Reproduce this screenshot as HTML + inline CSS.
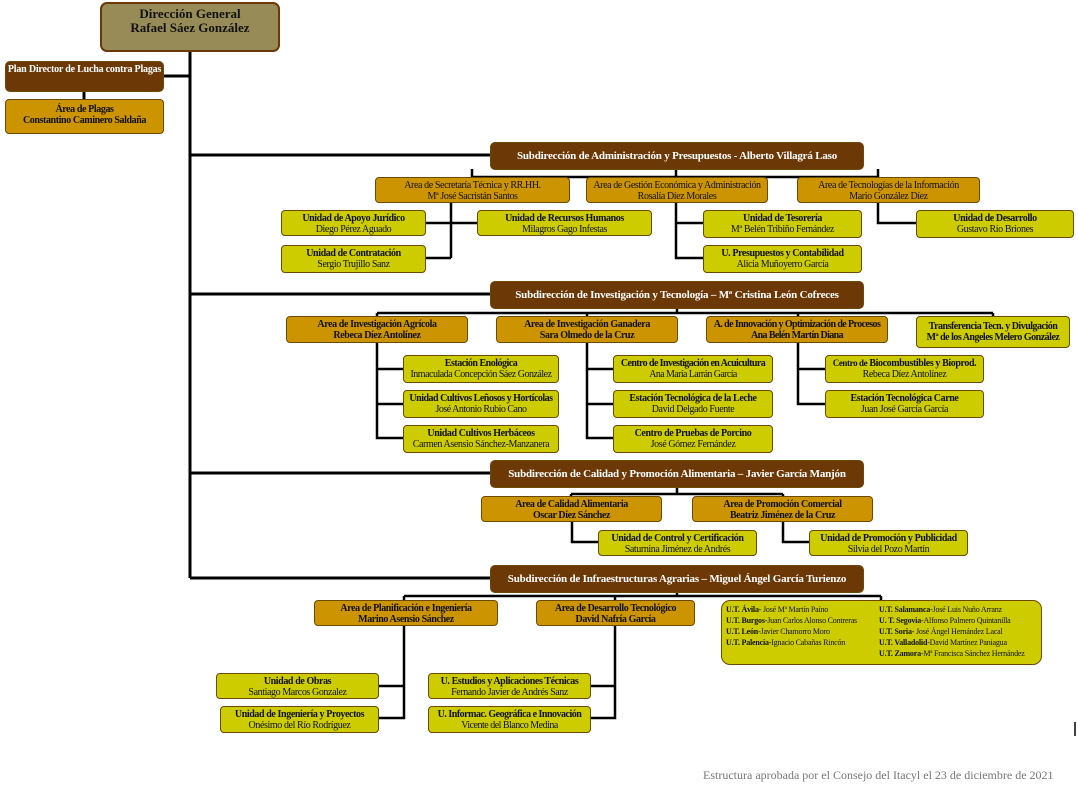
<!DOCTYPE html>
<html><head><meta charset="utf-8"><style>
body{margin:0;width:1078px;height:786px;background:#fff;position:relative;overflow:hidden;font-family:"Liberation Serif",serif;}
.b{position:absolute;box-sizing:border-box;border:1px solid #6b4a08;border-radius:4px;text-align:center;font-size:10px;line-height:11px;padding-top:2px;white-space:nowrap;color:#111;letter-spacing:-0.4px;overflow:hidden}
.a{background:#cc9400;font-weight:bold}
.u{background:#cccc00}
.u b{font-weight:bold}
.s{background:#6b3806;color:#fff;font-weight:bold;font-size:11px;border-radius:5px;line-height:27px;padding:0;letter-spacing:-0.2px}
svg{position:absolute;left:0;top:0}
</style></head><body>
<svg width="1078" height="786" stroke="#000" stroke-width="3" fill="none">
<path d="M190 51V578M163 76H190M84 91V99M190 155H490M190 294H490M190 473H490M190 578H490"/>
<path d="M472 177H878M472 169V177M676 169V177M878 169V177M451 177V258M425 223H477M425 258H451M676 202V258H703M676 223H703M878 202V223H916" stroke-width="2.5"/>
<path d="M377 313H993M677 308V313M377 313V316M587 313V316M798 313V316M993 313V316M377 342V438H403M377 369H403M377 404H403M587 342V438H613M587 369H613M587 404H613M798 342V404H825M798 369H825" stroke-width="2.5"/>
<path d="M571 494H783M677 487V494M571 494V496M783 494V496M572 521V542H598M783 521V542H809" stroke-width="2.5"/>
<path d="M404 596H881M677 592V596M404 596V600M615 596V600M881 596V600M404 625V718H378M378 686H404M615 625V718H590M590 686H615" stroke-width="2.5"/>
<path d="M1075 722V736" stroke-width="1.5"/>
</svg>
<div class="b" style="left:100px;top:2px;width:180px;height:50px;background:#978c58;border:2px solid #6b3806;border-radius:7px;font-weight:bold;font-size:13px;line-height:14px;padding-top:3px;letter-spacing:0">Dirección General<br>Rafael Sáez González</div>
<div class="b s" style="left:5px;top:61px;width:159px;height:31px;font-size:10px;line-height:12px;padding-top:2px">Plan Director de Lucha contra Plagas</div>
<div class="b a" style="left:5px;top:99px;width:159px;height:35px;padding-top:4px">Área de Plagas<br>Constantino Caminero Saldaña</div>

<div class="b s" style="left:490px;top:142px;width:374px;height:28px">Subdirección de Administración y Presupuestos - Alberto Villagrá Laso</div>
<div class="b a" style="left:375px;top:177px;width:195px;height:26px;font-weight:normal">Area de Secretaría Técnica y RR.HH.<br>Mª José Sacristán Santos</div>
<div class="b a" style="left:586px;top:177px;width:182px;height:26px;font-weight:normal">Area de Gestión Económica y Administración<br>Rosalía Díez Morales</div>
<div class="b a" style="left:797px;top:177px;width:183px;height:26px;font-weight:normal">Area de Tecnologías de la Información<br>Mario González Díez</div>
<div class="b u" style="left:281px;top:210px;width:145px;height:26px"><b>Unidad de Apoyo Jurídico</b><br>Diego Pérez Aguado</div>
<div class="b u" style="left:477px;top:210px;width:175px;height:26px"><b>Unidad de Recursos Humanos</b><br>Milagros Gago Infestas</div>
<div class="b u" style="left:281px;top:245px;width:145px;height:28px"><b>Unidad de Contratación</b><br>Sergio Trujillo Sanz</div>
<div class="b u" style="left:703px;top:210px;width:159px;height:28px"><b>Unidad de Tesorería</b><br>Mª Belén Tribiño Fernández</div>
<div class="b u" style="left:703px;top:245px;width:159px;height:28px"><b>U. Presupuestos y Contabilidad</b><br>Alicia Muñoyerro García</div>
<div class="b u" style="left:916px;top:210px;width:158px;height:28px"><b>Unidad de Desarrollo</b><br>Gustavo Río Briones</div>

<div class="b s" style="left:490px;top:281px;width:374px;height:28px">Subdirección de Investigación y Tecnología – Mª Cristina León Cofreces</div>
<div class="b a" style="left:286px;top:316px;width:182px;height:27px">Area de Investigación Agrícola<br>Rebeca Díez Antolínez</div>
<div class="b a" style="left:496px;top:316px;width:182px;height:27px">Area de Investigación Ganadera<br>Sara Olmedo de la Cruz</div>
<div class="b a" style="left:706px;top:316px;width:182px;height:27px;letter-spacing:-0.6px">A. de Innovación y Optimización de Procesos<br>Ana Belén Martín Diana</div>
<div class="b u" style="left:916px;top:316px;width:154px;height:32px;padding-top:4px;font-weight:bold;letter-spacing:-0.5px">Transferencia Tecn. y Divulgación<br>Mª de los Angeles Melero González</div>
<div class="b u" style="left:403px;top:355px;width:156px;height:28px;letter-spacing:-0.5px"><b>Estación Enológica</b><br>Inmaculada Concepción Sáez González</div>
<div class="b u" style="left:403px;top:390px;width:156px;height:28px;letter-spacing:-0.5px"><b>Unidad Cultivos Leñosos y Hortícolas</b><br>José Antonio Rubio Cano</div>
<div class="b u" style="left:403px;top:425px;width:156px;height:28px"><b>Unidad Cultivos Herbáceos</b><br>Carmen Asensio Sánchez-Manzanera</div>
<div class="b u" style="left:613px;top:355px;width:160px;height:28px;letter-spacing:-0.6px"><b>Centro de Investigación en Acuicultura</b><br>Ana María Larrán García</div>
<div class="b u" style="left:613px;top:390px;width:160px;height:28px"><b>Estación Tecnológica de la Leche</b><br>David Delgado Fuente</div>
<div class="b u" style="left:613px;top:425px;width:160px;height:28px"><b>Centro de Pruebas de Porcino</b><br>José Gómez Fernández</div>
<div class="b u" style="left:825px;top:355px;width:159px;height:28px"><b><span style="font-size:9px">Centro de</span> Biocombustibles y Bioprod.</b><br>Rebeca Díez Antolínez</div>
<div class="b u" style="left:825px;top:390px;width:159px;height:28px"><b>Estación Tecnológica Carne</b><br>Juan José García García</div>

<div class="b s" style="left:490px;top:460px;width:374px;height:28px">Subdirección de Calidad y Promoción Alimentaria – Javier García Manjón</div>
<div class="b a" style="left:481px;top:496px;width:181px;height:26px">Area de Calidad Alimentaria<br>Oscar Díez Sánchez</div>
<div class="b a" style="left:692px;top:496px;width:181px;height:26px">Area de Promoción Comercial<br>Beatriz Jiménez de la Cruz</div>
<div class="b u" style="left:598px;top:530px;width:159px;height:26px"><b>Unidad de Control y Certificación</b><br>Saturnina Jiménez de Andrés</div>
<div class="b u" style="left:809px;top:530px;width:159px;height:26px"><b>Unidad de Promoción y Publicidad</b><br>Silvia del Pozo Martín</div>

<div class="b s" style="left:490px;top:565px;width:374px;height:28px">Subdirección de Infraestructuras Agrarias – Miguel Ángel García Turienzo</div>
<div class="b a" style="left:314px;top:600px;width:184px;height:26px">Area de Planificación e Ingeniería<br>Marino Asensio Sánchez</div>
<div class="b a" style="left:536px;top:600px;width:159px;height:26px">Area de Desarrollo Tecnológico<br>David Nafría García</div>
<div class="b u" style="left:721px;top:600px;width:321px;height:65px;border-radius:9px;text-align:left;font-size:8px;line-height:11px;padding:3px 0 0 4px;letter-spacing:-0.2px">
<div style="position:absolute;left:4px;top:3px"><b>U.T. Ávila</b>- José Mª Martín Paíno<br><b>U.T. Burgos</b>-Juan Carlos Alonso Contreras<br><b>U.T. León</b>-Javier Chamorro Moro<br><b>U.T. Palencia</b>-Ignacio Cabañas Rincón</div>
<div style="position:absolute;left:157px;top:3px"><b>U.T. Salamanca</b>-José Luis Nuño Arranz<br><b>U. T. Segovia</b>-Alfonso Palmero Quintanilla<br><b>U.T. Soria</b>- José Ángel Hernández Lacal<br><b>U.T. Valladolid</b>-David Martínez Paniagua<br><b>U.T. Zamora</b>-Mª Francisca Sánchez Hernández</div>
</div>
<div class="b u" style="left:216px;top:673px;width:163px;height:26px"><b>Unidad de Obras</b><br>Santiago Marcos Gonzalez</div>
<div class="b u" style="left:220px;top:706px;width:159px;height:27px"><b>Unidad de Ingeniería y Proyectos</b><br>Onésimo del Río Rodríguez</div>
<div class="b u" style="left:428px;top:673px;width:163px;height:26px"><b>U. Estudios y Aplicaciones Técnicas</b><br>Fernando Javier de Andrés Sanz</div>
<div class="b u" style="left:428px;top:706px;width:163px;height:27px;letter-spacing:-0.5px"><b>U. Informac. Geográfica e Innovación</b><br>Vicente del Blanco Medina</div>

<div style="position:absolute;left:703px;top:768px;font-size:12px;color:#777;white-space:nowrap">Estructura aprobada por el Consejo del Itacyl el 23 de diciembre de 2021</div>
</body></html>
